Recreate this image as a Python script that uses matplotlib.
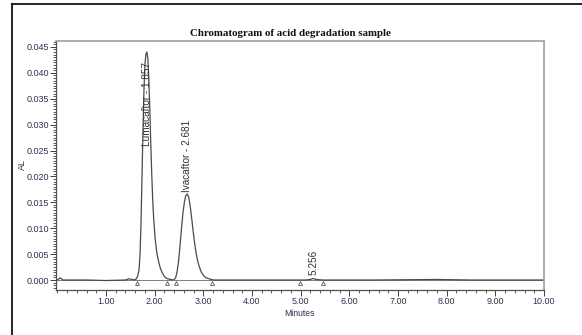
import matplotlib
matplotlib.use("Agg")
import matplotlib.pyplot as plt
from matplotlib.ticker import MultipleLocator, FixedLocator, FuncFormatter
from matplotlib.lines import Line2D

# ---- data ----
baseline_head_t = [0.00, 0.03, 0.06, 0.09, 0.12, 0.60, 1.00, 1.40, 1.46, 1.50, 1.54, 1.58]
baseline_head_y = [0.0000, 0.0002, 0.0004, 0.0002, 0.0000, 0.0000, -0.0001, 0.0000, 0.0002, 0.0002, 0.0001, 0.0000]

luma_t = [1.62, 1.65, 1.68, 1.70, 1.72, 1.74, 1.76, 1.78, 1.80, 1.82, 1.84, 1.86, 1.88,
          1.90, 1.92, 1.94, 1.96, 1.98, 2.01, 2.04, 2.07, 2.11, 2.15, 2.19, 2.23, 2.28, 2.33]
luma_y = [0.0002, 0.0007, 0.0020, 0.0050, 0.0110, 0.0200, 0.0290, 0.0365, 0.0415, 0.0436,
          0.0440, 0.0428, 0.0390, 0.0330, 0.0265, 0.0205, 0.0155, 0.0118, 0.0080, 0.0056,
          0.0040, 0.0025, 0.0015, 0.0008, 0.0004, 0.0002, 0.0001]

iva_t = [2.39, 2.43, 2.46, 2.49, 2.52, 2.55, 2.58, 2.61, 2.64, 2.67, 2.70, 2.73, 2.76,
         2.79, 2.82, 2.85, 2.88, 2.92, 2.96, 3.01, 3.06, 3.13, 3.21]
iva_y = [0.0000, 0.0004, 0.0015, 0.0035, 0.0065, 0.0098, 0.0128, 0.0150, 0.0163, 0.0166,
         0.0160, 0.0143, 0.0120, 0.0095, 0.0072, 0.0053, 0.0038, 0.0025, 0.0015, 0.0008,
         0.0004, 0.0002, 0.0000]

baseline_tail_t = [3.60, 4.40, 5.10, 5.20, 5.256, 5.32, 5.45, 6.50, 7.80, 8.50, 10.00]
baseline_tail_y = [0.0000, 0.0000, 0.0000, 0.0001, 0.0003, 0.0001, 0.0000, 0.0000, 0.0001, 0.0000, 0.0000]

marker_t = [1.63, 2.25, 2.44, 3.17, 4.98, 5.46]
marker_y = [-0.0005, -0.0005, -0.0005, -0.0005, -0.0005, -0.0005]

peak_names = ["Lumacaftor - 1.857", "Ivacaftor - 2.681", "5.256"]
peak_label_t = [1.84, 2.67, 5.27]
peak_label_y = [0.0259, 0.0170, 0.0010]

x_major = [1, 2, 3, 4, 5, 6, 7, 8, 9, 10]

title = "Chromatogram of acid degradation sample"
xlabel = "Minutes"
ylabel = "AL"

t_all = baseline_head_t + luma_t + iva_t + baseline_tail_t
y_all = baseline_head_y + luma_y + iva_y + baseline_tail_y

fig = plt.figure(figsize=(5.82, 3.35), dpi=100)
ax = fig.add_axes([56/582, 1 - 290/335, (544 - 56)/582, (290 - 41)/335])

ax.plot(t_all, y_all, color="#4a4a4a", lw=0.9)
ax.axhline(0, color="#6a6a6a", lw=0.6, zorder=1)
ax.plot(marker_t, marker_y, linestyle="none", marker="^", markersize=2.8,
        markerfacecolor="white", markeredgecolor="#555555", markeredgewidth=0.6)

for name, tx, ty in zip(peak_names, peak_label_t, peak_label_y):
    ax.text(tx, ty, name, rotation=90, ha="center", va="bottom",
            fontsize=7.2, family="Liberation Sans", color="#303030")

ax.set_xlim(-0.027, 10.0)
ax.set_ylim(-0.00193, 0.04614)

ax.xaxis.set_major_locator(FixedLocator(x_major))
ax.xaxis.set_minor_locator(MultipleLocator(0.2))
ax.xaxis.set_major_formatter(FuncFormatter(lambda v, p: f"{v:.2f}"))
ax.yaxis.set_major_locator(MultipleLocator(0.005))
ax.yaxis.set_minor_locator(MultipleLocator(0.0005))
ax.yaxis.set_major_formatter(FuncFormatter(lambda v, p: f"{v:.3f}"))

ax.tick_params(axis="both", which="major", direction="out", length=4, width=0.7,
               colors="#404040", labelsize=6.5, pad=1)
ax.tick_params(axis="both", which="minor", direction="out", length=2, width=0.6,
               colors="#404040")
for lab in ax.get_xticklabels() + ax.get_yticklabels():
    lab.set_family("Liberation Sans")
    lab.set_color("#303050")

for s in ["top", "right"]:
    ax.spines[s].set_color("#a0a0a0")
    ax.spines[s].set_linewidth(1.2)
for s in ["left", "bottom"]:
    ax.spines[s].set_color("#505050")
    ax.spines[s].set_linewidth(0.9)

fig.text(22/582, 1 - 165/335, ylabel, rotation=90, ha="center", va="center",
         fontsize=6.5, family="Liberation Sans", color="#303030")
fig.text(300/582, 1 - 313/335, xlabel, ha="center", va="center",
         fontsize=6.2, family="Liberation Sans", color="#303050")
fig.text(290/582, 1 - 33/335, title, ha="center", va="center",
         fontsize=7.8, family="Liberation Serif", fontweight="bold", color="#101010")

# page border lines
fig.add_artist(Line2D([12/582, 1.0], [1 - 4/335, 1 - 4/335], color="black", lw=1.2,
                      transform=fig.transFigure))
fig.add_artist(Line2D([12/582, 12/582], [1 - 4/335, 0.0], color="black", lw=1.2,
                      transform=fig.transFigure))

fig.savefig("out.png", dpi=100)
